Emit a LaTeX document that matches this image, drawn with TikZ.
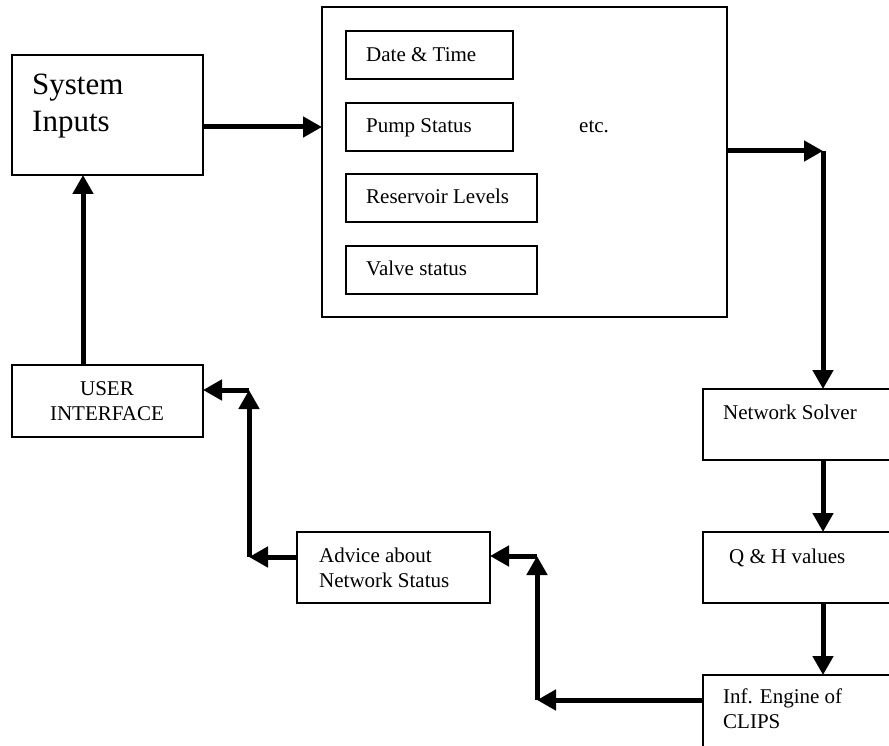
\documentclass[tikz,border=0pt]{standalone}
\usepackage{fontspec}
\setmainfont{Liberation Serif}
\usetikzlibrary{arrows.meta}
\begin{document}
\begin{tikzpicture}[x=1pt,y=-1pt,
 box/.style={draw,line width=1.4pt,rectangle,inner sep=0pt,outer sep=0pt,anchor=north west},
 txt/.style={inner sep=0pt,anchor=base west,font=\fontsize{21}{25}\selectfont},
 ctxt/.style={inner sep=0pt,anchor=base,font=\fontsize{21}{25}\selectfont},
 bigtxt/.style={inner sep=0pt,anchor=base west,font=\fontsize{31}{37}\selectfont},
 flow/.style={line width=5pt,-{Triangle[length=19pt,width=20pt]}}]
\clip (0,0) rectangle (889,746);
\fill[white] (0,0) rectangle (889,746);
% boxes
\node[box,minimum width=191pt,minimum height=120pt] (si) at (12,55) {};
\node[box,minimum width=405pt,minimum height=310pt] (main) at (322,7) {};
\node[box,minimum width=167pt,minimum height=48pt] (dt) at (346,31) {};
\node[box,minimum width=167pt,minimum height=48pt] (ps) at (346,103) {};
\node[box,minimum width=191pt,minimum height=48pt] (rl) at (346,174) {};
\node[box,minimum width=191pt,minimum height=48pt] (vs) at (346,246) {};
\node[box,minimum width=200pt,minimum height=71pt] (ns) at (703,389) {};
\node[box,minimum width=200pt,minimum height=71pt] (qh) at (703,532) {};
\node[box,minimum width=200pt,minimum height=80pt] (inf) at (703,675) {};
\node[box,minimum width=193pt,minimum height=71pt] (adv) at (297,532) {};
\node[box,minimum width=191pt,minimum height=72pt] (ui) at (12,365) {};
% texts
\node[bigtxt] (t1) at (32,95) {System};
\node[bigtxt] (t2) at (32,132) {Inputs};
\node[txt] (t3) at (366,62) {Date \& Time};
\node[txt] (t4) at (366,133) {Pump Status};
\node[txt] (t5) at (366,204) {Reservoir Levels};
\node[txt] (t6) at (366,276) {Valve status};
\node[txt] (t7) at (579,133) {etc.};
\node[txt] (t8) at (723,419) {Network Solver};
\node[txt] (t9) at (729,563) {Q \& H values};
\node[txt] (t10) at (723,703) {Inf. Engine of};
\node[txt] (t11) at (723,728) {CLIPS};
\node[txt] (t12) at (319,562) {Advice about};
\node[txt] (t13) at (319,587) {Network Status};
\node[ctxt] (t14) at (107,395) {USER};
\node[ctxt] (t15) at (107,420) {INTERFACE};
% connector helpers
\coordinate (h1) at (0,127);
\coordinate (v1) at (83,0);
\coordinate (c1) at (823,151);
\coordinate (c2) at (537,700);
\coordinate (c3) at (537,556);
\coordinate (c4) at (249,557);
\coordinate (c5) at (249,390);
% connectors
\draw[flow] (si.east |- h1) -- (main.west |- h1);
\draw[flow] (ui.north -| v1) -- (si.south -| v1);
\draw[flow] (main.east |- c1) -- (c1);
\draw[flow] (c1) -- (ns.north -| c1);
\draw[flow] (ns.south -| c1) -- (qh.north -| c1);
\draw[flow] (qh.south -| c1) -- (inf.north -| c1);
\draw[flow] (inf.west |- c2) -- (c2);
\draw[flow] (c2) -- (c3);
\draw[flow] (c3) -- (adv.east |- c3);
\draw[flow] (adv.west |- c4) -- (c4);
\draw[flow] (c4) -- (c5);
\draw[flow] (c5) -- (ui.east |- c5);
\end{tikzpicture}
\end{document}
